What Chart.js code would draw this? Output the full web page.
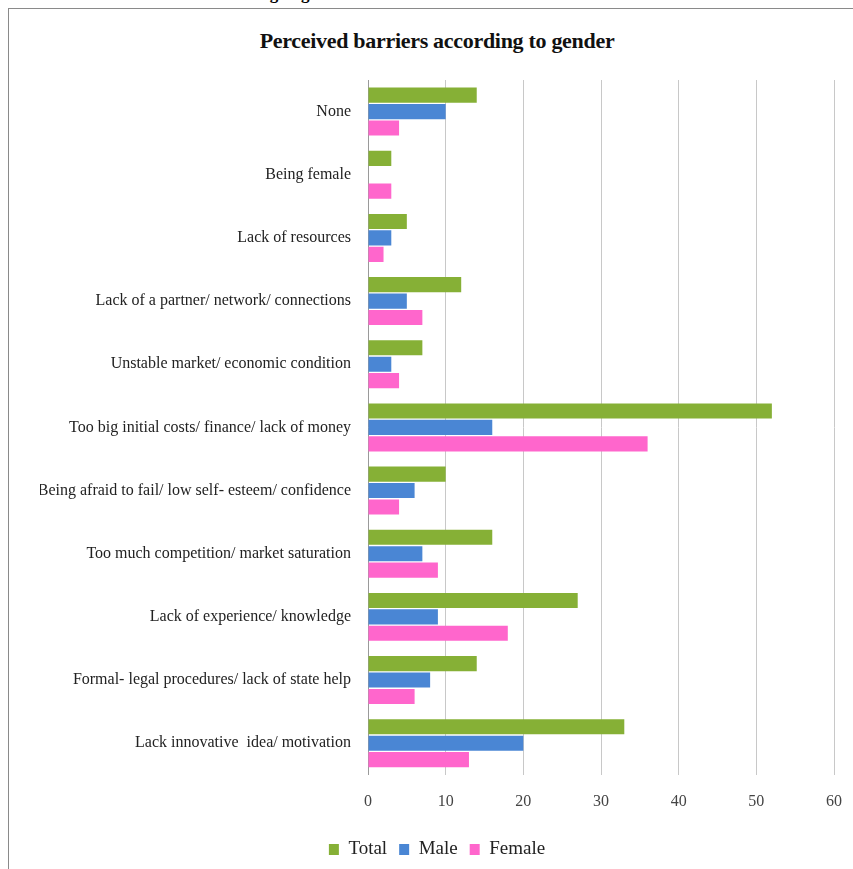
<!DOCTYPE html>
<html>
<head>
<meta charset="utf-8">
<script src="https://cdn.jsdelivr.net/npm/chart.js@4/dist/chart.umd.min.js"></script>
<style>
  html, body { margin: 0; padding: 0; background: #fff; overflow: hidden; }
  #wrap { position: relative; width: 853px; height: 869px; }
  #caption {
    position: absolute; left: 2px; top: -16px; margin: 0;
    font: bold 17px "Liberation Serif", serif; color: #000; white-space: nowrap;
  }
  #frame {
    position: absolute; left: 8px; top: 8px; width: 860px; height: 880px;
    border-left: 1px solid #8a8a8a; border-top: 1px solid #8a8a8a;
  }
  #title {
    position: absolute; left: 237px; width: 400px; top: 28px; margin: 0;
    text-align: center; font: bold 22px "Liberation Serif", serif; color: #111;
    letter-spacing: -0.3px;
  }
  #chart { position: absolute; left: 0; top: 0; }
</style>
</head>
<body>
<div id="wrap">
  <p id="caption">Chart 4: Perceived barriers according to gender</p>
  <div id="frame"></div>
  <p id="title">Perceived barriers according to gender</p>
  <canvas id="chart" width="853" height="869"></canvas>
</div>
<script>
const categories = [
  "None",
  "Being female",
  "Lack of resources",
  "Lack of a partner/ network/ connections",
  "Unstable market/ economic condition",
  "Too big initial costs/ finance/ lack of money",
  "Being afraid to fail/ low self- esteem/ confidence",
  "Too much competition/ market saturation",
  "Lack of experience/ knowledge",
  "Formal- legal procedures/ lack of state help",
  "Lack innovative  idea/ motivation"
];
const totalValues  = [14, 3, 5, 12, 7, 52, 10, 16, 27, 14, 33];
const maleValues   = [10, 0, 3, 5, 3, 16, 6, 7, 9, 8, 20];
const femaleValues = [4, 3, 2, 7, 4, 36, 4, 9, 18, 6, 13];
const xTicks = [0, 10, 20, 30, 40, 50, 60];

const serif = "'Liberation Serif', 'Times New Roman', serif";

new Chart(document.getElementById("chart"), {
  type: "bar",
  data: {
    labels: categories,
    datasets: [
      { label: "Total", data: totalValues, backgroundColor: "#86b036" },
      { label: "Male", data: maleValues, backgroundColor: "#4a86d4" },
      { label: "Female", data: femaleValues, backgroundColor: "#ff66cc" }
    ]
  },
  options: {
    indexAxis: "y",
    responsive: false,
    animation: false,
    layout: { padding: { left: 40, right: 19, top: 80, bottom: 0 } },
    datasets: { bar: { categoryPercentage: 0.78, barPercentage: 0.92 } },
    plugins: {
      legend: {
        position: "bottom",
        labels: {
          color: "#222",
          font: { family: serif, size: 19 },
          boxWidth: 10, boxHeight: 11, padding: 12
        }
      },
      tooltip: { enabled: false }
    },
    scales: {
      x: {
        min: 0, max: 60,
        afterBuildTicks: s => { s.ticks = xTicks.map(v => ({ value: v })); },
        afterFit: s => { s.paddingLeft = 0; s.paddingRight = 0; },
        grid: { color: "#c8c8c8", drawTicks: false },
        border: { display: false },
        ticks: { color: "#444", font: { family: serif, size: 16 }, padding: 17 }
      },
      y: {
        afterFit: s => { s.width = 328; },
        grid: { display: false },
        border: { color: "#9a9a9a" },
        ticks: { color: "#222", font: { family: serif, size: 16 }, padding: 9 }
      }
    }
  }
});
</script>
</body>
</html>
